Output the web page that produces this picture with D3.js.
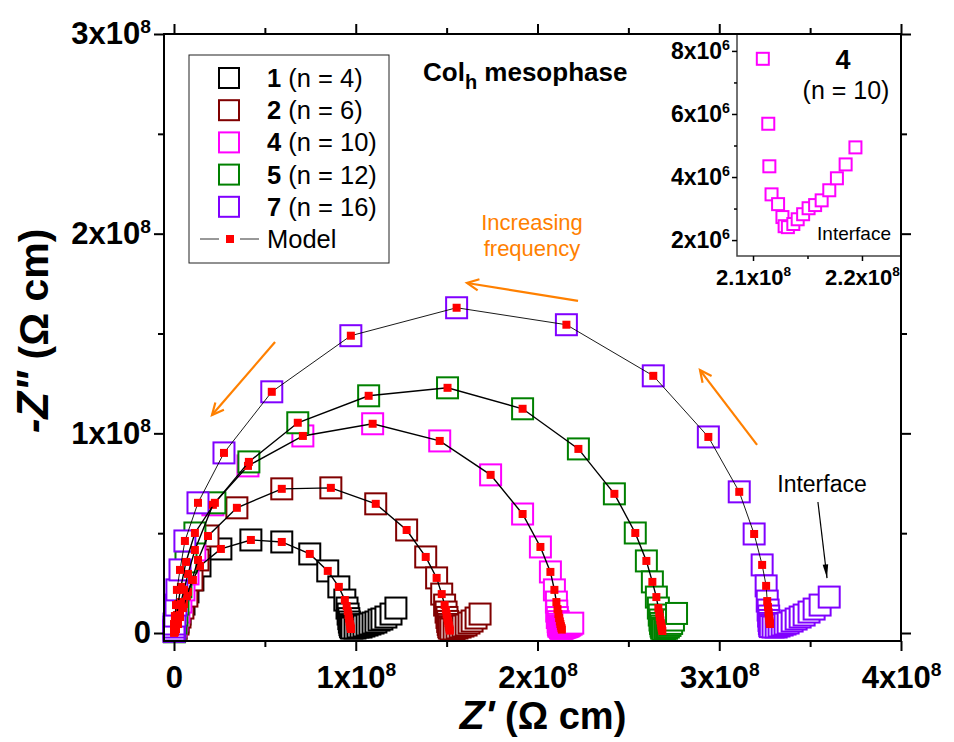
<!DOCTYPE html>
<html lang="en">
<head>
<meta charset="utf-8">
<title>Impedance - Colh mesophase</title>
<script src="https://d3js.org/d3.v7.min.js"></script>
<style>
body { margin: 0; background: #fff; }
text { font-family: Arial, "Liberation Sans", sans-serif; }
</style>
</head>
<body>
<div id="chart"></div>
<script>
// all impedance values in units of 1e8 Ohm cm, as [Z', -Z'']
var seriesNames = ["1", "2", "4", "5", "7"];
var seriesN = [4, 6, 10, 12, 16];
var seriesColors = ["#000000", "#800000", "#ff00ff", "#008000", "#8000ff"];

// measured points (open squares)
var zData1 = [[0.003,0.010],[0.006,0.018],[0.011,0.025],[0.022,0.055],[0.033,0.095],[0.055,0.145],[0.077,0.206],[0.104,0.266],[0.143,0.336],[0.258,0.421],[0.423,0.466],[0.593,0.456],[0.747,0.396],[0.846,0.311],[0.907,0.231],[0.940,0.165],[0.952,0.125],[0.958,0.095],[0.962,0.072],[0.965,0.055],[0.968,0.042],[0.971,0.033],[0.975,0.027],
  [0.979,0.025],[0.996,0.025],[1.012,0.030],[1.029,0.030],[1.045,0.035],[1.062,0.040],[1.078,0.045],[1.095,0.050],[1.111,0.055],[1.128,0.065],[1.144,0.070],[1.166,0.080],[1.194,0.095],[1.221,0.125]];
var zData2 = [[0.003,0.008],[0.006,0.014],[0.011,0.020],[0.022,0.045],[0.033,0.080],[0.049,0.125],[0.071,0.185],[0.099,0.266],[0.132,0.366],[0.187,0.486],[0.346,0.627],[0.593,0.722],[0.863,0.727],[1.110,0.647],[1.280,0.516],[1.385,0.381],[1.445,0.276],[1.473,0.195],[1.489,0.140],[1.497,0.105],[1.502,0.078],[1.506,0.058],[1.509,0.043],[1.512,0.032],[1.515,0.025],
  [1.524,0.020],[1.541,0.020],[1.557,0.025],[1.574,0.030],[1.590,0.035],[1.607,0.040],[1.623,0.050],[1.640,0.060],[1.662,0.075],[1.684,0.095]];
var zData3 = [[0.002,0.008],[0.004,0.012],[0.005,0.015],[0.011,0.035],[0.016,0.065],[0.027,0.105],[0.038,0.155],[0.055,0.216],[0.077,0.296],[0.115,0.416],[0.214,0.642],[0.407,0.837],[0.709,0.987],[1.093,1.048],[1.462,0.962],[1.742,0.792],[1.918,0.596],[2.016,0.431],[2.071,0.306],[2.093,0.216],[2.104,0.155],[2.106,0.110],
  [2.109,0.0775],[2.114,0.0569],[2.115,0.0434],[2.117,0.0345],[2.123,0.0314],[2.127,0.0273],[2.129,0.0244],[2.132,0.0241],[2.137,0.0251],[2.141,0.0266],[2.146,0.0282],[2.151,0.0301],[2.157,0.0311],[2.163,0.0326],[2.170,0.0358],[2.177,0.0396],[2.185,0.0440],[2.194,0.0494]];
var zData4 = [[0.002,0.006],[0.003,0.012],[0.005,0.020],[0.011,0.050],[0.016,0.090],[0.022,0.145],[0.038,0.231],[0.066,0.356],[0.115,0.501],[0.225,0.652],[0.412,0.857],[0.681,1.053],[1.071,1.188],[1.505,1.228],[1.918,1.123],[2.225,0.922],[2.423,0.697],[2.538,0.501],[2.599,0.361],[2.632,0.256],[2.654,0.180],[2.665,0.125],[2.670,0.090],[2.674,0.065],[2.677,0.048],[2.680,0.035],[2.683,0.025],
  [2.690,0.018],[2.700,0.020],[2.710,0.024],[2.720,0.030],[2.729,0.038],[2.738,0.048],[2.748,0.065],[2.765,0.098]];
var zData5 = [[0.000,0.008],[0.000,0.015],[0.000,0.030],[0.000,0.045],[0.005,0.085],[0.011,0.140],[0.016,0.216],[0.033,0.316],[0.060,0.461],[0.132,0.652],[0.275,0.902],[0.538,1.208],[0.973,1.489],[1.555,1.629],[2.159,1.544],[2.637,1.288],[2.940,0.982],[3.110,0.707],[3.192,0.496],[3.236,0.341],[3.258,0.236],[3.264,0.160],[3.269,0.115],[3.272,0.085],[3.274,0.063],[3.276,0.048],[3.278,0.038],[3.281,0.032],
  [3.296,0.030],[3.313,0.030],[3.329,0.035],[3.346,0.040],[3.362,0.045],[3.379,0.050],[3.401,0.060],[3.423,0.070],[3.445,0.080],[3.467,0.090],[3.494,0.105],[3.522,0.120],[3.555,0.140],[3.605,0.180]];

// model points (red squares + black line)
var zModel1 = [[0.001,0.003],[0.003,0.008],[0.006,0.016],[0.011,0.025],[0.022,0.055],[0.033,0.095],[0.055,0.145],[0.077,0.206],[0.104,0.266],[0.143,0.336],[0.258,0.421],[0.423,0.466],[0.593,0.456],[0.747,0.396],[0.846,0.311],[0.907,0.231],[0.940,0.165],[0.950,0.135],[0.956,0.110],[0.960,0.090],[0.963,0.072],[0.966,0.057],[0.968,0.044],[0.970,0.035],[0.972,0.027],[0.974,0.020]];
var zModel2 = [[0.001,0.003],[0.003,0.008],[0.006,0.014],[0.011,0.020],[0.022,0.045],[0.033,0.080],[0.049,0.125],[0.071,0.185],[0.099,0.266],[0.132,0.366],[0.187,0.486],[0.346,0.627],[0.593,0.722],[0.863,0.727],[1.110,0.647],[1.280,0.516],[1.385,0.381],[1.445,0.276],[1.473,0.195],[1.489,0.140],[1.496,0.115],[1.500,0.095],[1.504,0.077],[1.507,0.062],[1.510,0.049],[1.512,0.038],[1.514,0.028],[1.516,0.019],[1.518,0.012]];
var zModel3 = [[0.001,0.003],[0.002,0.007],[0.004,0.012],[0.011,0.035],[0.016,0.065],[0.027,0.105],[0.038,0.155],[0.055,0.216],[0.077,0.296],[0.115,0.416],[0.214,0.642],[0.407,0.837],[0.709,0.987],[1.093,1.048],[1.462,0.962],[1.742,0.792],[1.918,0.596],[2.016,0.431],[2.071,0.306],[2.093,0.216],[2.104,0.155],[2.110,0.120],[2.115,0.095],[2.119,0.075],[2.123,0.058],[2.126,0.045],[2.129,0.034],[2.132,0.025],[2.134,0.017]];
var zModel4 = [[0.001,0.003],[0.002,0.007],[0.004,0.013],[0.011,0.050],[0.016,0.090],[0.022,0.145],[0.038,0.231],[0.066,0.356],[0.115,0.501],[0.225,0.652],[0.412,0.857],[0.681,1.053],[1.071,1.188],[1.505,1.228],[1.918,1.123],[2.225,0.922],[2.423,0.697],[2.538,0.501],[2.599,0.361],[2.632,0.256],[2.654,0.180],[2.665,0.125],[2.670,0.100],[2.673,0.080],[2.676,0.063],[2.679,0.049],[2.681,0.037],[2.683,0.027],[2.685,0.018],[2.687,0.010]];
var zModel5 = [[0.000,0.004],[0.000,0.012],[0.000,0.025],[0.000,0.045],[0.005,0.085],[0.011,0.140],[0.016,0.216],[0.033,0.316],[0.060,0.461],[0.132,0.652],[0.275,0.902],[0.538,1.208],[0.973,1.489],[1.555,1.629],[2.159,1.544],[2.637,1.288],[2.940,0.982],[3.110,0.707],[3.192,0.496],[3.236,0.341],[3.258,0.236],[3.264,0.160],[3.268,0.130],[3.271,0.105],[3.273,0.088],[3.275,0.074],[3.276,0.062],[3.278,0.052],[3.279,0.045]];

// axis ticks (units of 1e8)
var xMajor = [0, 1, 2, 3, 4];
var xMinor = [0.5, 1.5, 2.5, 3.5];
var yMajor = [0, 1, 2, 3];
var yMinor = [0.5, 1.5, 2.5];
// inset ticks
var insetXMajor = [2.1, 2.2];
var insetXMinor = [2.15];
var insetYMajor = [0.02, 0.04, 0.06, 0.08];
var insetYMinor = [0.03, 0.05, 0.07];

var dataSets = [zData1, zData2, zData3, zData4, zData5];
var modelSets = [zModel1, zModel2, zModel3, zModel4, zModel5];
var series = seriesNames.map(function(nm, i) {
  return {name: nm, n: seriesN[i], color: seriesColors[i], data: dataSets[i], model: modelSets[i]};
});

var width = 954, height = 742;
var frame = {left: 164, right: 901, top: 34, bottom: 641};

var svg = d3.select("#chart").append("svg")
  .attr("width", width)
  .attr("height", height);

var x = d3.scaleLinear().domain([-0.055, 4]).range([frame.left, frame.right]);
var y = d3.scaleLinear().domain([-0.04, 3]).range([frame.bottom, frame.top]);

// writes "2x10^8" style tick text
function sciText(sel, mant, exp) {
  sel.text(null);
  if (mant === 0) { sel.text("0"); return; }
  sel.append("tspan").text(mant + "x10");
  sel.append("tspan").attr("dy", "-0.6em").style("font-size", "0.62em").text(exp);
}

function styleAxis(g, fontSize) {
  g.select(".domain").remove();
  g.selectAll(".tick line").attr("stroke", "#000").attr("stroke-width", 2);
  g.selectAll("text")
    .attr("fill", "#000")
    .attr("font-size", fontSize)
    .attr("font-weight", "bold")
    .attr("font-family", "Arial, 'Liberation Sans', sans-serif");
}

// ---- data squares ----
var sq = 21;
series.forEach(function(s) {
  svg.append("g")
    .selectAll("rect")
    .data(s.data)
    .enter()
    .append("rect")
      .attr("x", function(d) { return x(d[0]) - sq / 2; })
      .attr("y", function(d) { return y(d[1]) - sq / 2; })
      .attr("width", sq)
      .attr("height", sq)
      .attr("fill", "#fff")
      .attr("stroke", s.color)
      .attr("stroke-width", 2);
});

// ---- model lines + red points ----
var line = d3.line().x(function(d) { return x(d[0]); }).y(function(d) { return y(d[1]); });
series.forEach(function(s, i) {
  svg.append("path")
    .datum(s.model)
    .attr("d", line)
    .attr("fill", "none")
    .attr("stroke", "#000")
    .attr("stroke-width", i === 4 ? 0.9 : 1.4);
  svg.append("g")
    .selectAll("rect")
    .data(s.model)
    .enter()
    .append("rect")
      .attr("x", function(d) { return x(d[0]) - 4; })
      .attr("y", function(d) { return y(d[1]) - 4; })
      .attr("width", 8)
      .attr("height", 8)
      .attr("fill", "#ff0000");
});

// ---- frame + axes ----
svg.append("rect")
  .attr("x", frame.left).attr("y", frame.top)
  .attr("width", frame.right - frame.left).attr("height", frame.bottom - frame.top)
  .attr("fill", "none").attr("stroke", "#000").attr("stroke-width", 2);

var tickFont = 31;
var gxB = svg.append("g").attr("transform", "translate(0," + frame.bottom + ")")
  .call(d3.axisBottom(x).tickValues(xMajor).tickSize(10).tickPadding(15));
styleAxis(gxB, tickFont);
gxB.selectAll(".tick text").each(function(d) { sciText(d3.select(this), d, "8"); });
svg.append("g").attr("transform", "translate(0," + frame.bottom + ")")
  .call(d3.axisBottom(x).tickValues(xMinor).tickSize(6).tickFormat(""))
  .call(styleAxis, tickFont);
svg.append("g").attr("transform", "translate(0," + frame.top + ")")
  .call(d3.axisTop(x).tickValues(xMajor).tickSize(10).tickFormat(""))
  .call(styleAxis, tickFont);
svg.append("g").attr("transform", "translate(0," + frame.top + ")")
  .call(d3.axisTop(x).tickValues(xMinor).tickSize(6).tickFormat(""))
  .call(styleAxis, tickFont);

var gyL = svg.append("g").attr("transform", "translate(" + frame.left + ",0)")
  .call(d3.axisLeft(y).tickValues(yMajor).tickSize(10).tickPadding(3));
styleAxis(gyL, tickFont);
gyL.selectAll(".tick text").each(function(d) { sciText(d3.select(this), d, "8"); });
svg.append("g").attr("transform", "translate(" + frame.left + ",0)")
  .call(d3.axisLeft(y).tickValues(yMinor).tickSize(6).tickFormat(""))
  .call(styleAxis, tickFont);
svg.append("g").attr("transform", "translate(" + frame.right + ",0)")
  .call(d3.axisRight(y).tickValues(yMajor).tickSize(10).tickFormat(""))
  .call(styleAxis, tickFont);
svg.append("g").attr("transform", "translate(" + frame.right + ",0)")
  .call(d3.axisRight(y).tickValues(yMinor).tickSize(6).tickFormat(""))
  .call(styleAxis, tickFont);

// axis titles
var yTitle = svg.append("text")
  .attr("transform", "translate(48,331) rotate(-90)")
  .attr("text-anchor", "middle")
  .attr("font-weight", "bold")
  .attr("font-size", 41);
yTitle.append("tspan").attr("font-style", "italic").attr("font-size", 44).text("-Z\"");
yTitle.append("tspan").text(" (\u03A9 cm)");

var xTitle = svg.append("text")
  .attr("x", 543).attr("y", 729)
  .attr("text-anchor", "middle")
  .attr("font-weight", "bold")
  .attr("font-size", 38);
xTitle.append("tspan").attr("font-style", "italic").attr("font-size", 41).text("Z'");
xTitle.append("tspan").text(" (\u03A9 cm)");

// ---- legend ----
var legend = svg.append("g");
legend.append("rect")
  .attr("x", 189).attr("y", 55).attr("width", 200).attr("height", 208)
  .attr("fill", "#fff").attr("stroke", "#222").attr("stroke-width", 1);
series.forEach(function(s, i) {
  var ly = 78 + i * 32.2;
  legend.append("rect")
    .attr("x", 219).attr("y", ly - 10).attr("width", 20).attr("height", 20)
    .attr("fill", "#fff").attr("stroke", s.color).attr("stroke-width", 2);
  var t = legend.append("text").attr("x", 267).attr("y", ly + 9).attr("font-size", 25.5);
  t.append("tspan").attr("font-weight", "bold").text(s.name);
  t.append("tspan").text(" (n = " + s.n + ")");
});
var lm = 78 + 5 * 32.2;
legend.append("line").attr("x1", 200).attr("x2", 219).attr("y1", lm).attr("y2", lm).attr("stroke", "#333").attr("stroke-width", 1);
legend.append("line").attr("x1", 240).attr("x2", 259).attr("y1", lm).attr("y2", lm).attr("stroke", "#333").attr("stroke-width", 1);
legend.append("rect").attr("x", 226).attr("y", lm - 4).attr("width", 8).attr("height", 8).attr("fill", "#ff0000");
legend.append("text").attr("x", 267).attr("y", lm + 9).attr("font-size", 25.5).text("Model");

// title
var title = svg.append("text").attr("x", 423).attr("y", 81).attr("font-size", 26).attr("font-weight", "bold");
title.append("tspan").text("Col");
title.append("tspan").attr("dy", 8).attr("font-size", 20).text("h");
title.append("tspan").attr("dy", -8).text(" mesophase");

// ---- annotations ----
var orange = "#ff8000";
function arrow(x1, y1, x2, y2, color, filled) {
  var px1 = x(x1), py1 = y(y1), px2 = x(x2), py2 = y(y2);
  var ang = Math.atan2(py2 - py1, px2 - px1);
  svg.append("line").attr("x1", px1).attr("y1", py1).attr("x2", px2).attr("y2", py2)
    .attr("stroke", color).attr("stroke-width", filled ? 1.2 : 2.2);
  var L = filled ? 14 : 13, a = filled ? 0.2 : 0.45;
  var p1 = [px2 - L * Math.cos(ang - a), py2 - L * Math.sin(ang - a)];
  var p2 = [px2 - L * Math.cos(ang + a), py2 - L * Math.sin(ang + a)];
  if (filled) {
    svg.append("path").attr("d", "M" + p1 + "L" + [px2, py2] + "L" + p2 + "Z").attr("fill", color);
  } else {
    svg.append("path").attr("d", "M" + p1 + "L" + [px2, py2] + "L" + p2)
      .attr("fill", "none").attr("stroke", color).attr("stroke-width", 2.2);
  }
}
arrow(2.223, 1.663, 1.612, 1.753, orange, false);
arrow(0.556, 1.457, 0.209, 1.092, orange, false);
arrow(3.208, 0.942, 2.894, 1.317, orange, false);
arrow(3.543, 0.656, 3.593, 0.275, "#000", true);

var inc = svg.append("text").attr("text-anchor", "middle").attr("font-size", 22).attr("fill", orange);
inc.append("tspan").attr("x", 532).attr("y", 230).text("Increasing");
inc.append("tspan").attr("x", 532).attr("y", 256).text("frequency");

svg.append("text").attr("x", 822).attr("y", 492).attr("text-anchor", "middle")
  .attr("font-size", 23).text("Interface");

// ---- inset: tail of series 4 ----
var inset = {left: 737, right: 900, top: 35, bottom: 256};
var ix = d3.scaleLinear().domain([2.0853, 2.2349]).range([inset.left, inset.right]);
var iy = d3.scaleLinear().domain([0.01495, 0.08505]).range([inset.bottom, inset.top]);

svg.append("rect").attr("x", inset.left).attr("y", inset.top)
  .attr("width", inset.right - inset.left).attr("height", inset.bottom - inset.top)
  .attr("fill", "#fff");
svg.append("clipPath").attr("id", "insetClip").append("rect")
  .attr("x", inset.left).attr("y", inset.top)
  .attr("width", inset.right - inset.left).attr("height", inset.bottom - inset.top);

svg.append("g").attr("clip-path", "url(#insetClip)")
  .selectAll("rect")
  .data(zData3)
  .enter()
  .append("rect")
    .attr("x", function(d) { return ix(d[0]) - 6; })
    .attr("y", function(d) { return iy(d[1]) - 6; })
    .attr("width", 12)
    .attr("height", 12)
    .attr("fill", "#fff")
    .attr("stroke", seriesColors[2])
    .attr("stroke-width", 2);

svg.append("path")
  .attr("d", "M" + inset.left + "," + inset.top + "V" + inset.bottom + "H" + inset.right)
  .attr("fill", "none").attr("stroke", "#444").attr("stroke-width", 1.5);

var gix = svg.append("g").attr("transform", "translate(0," + inset.bottom + ")")
  .call(d3.axisBottom(ix).tickValues(insetXMajor).tickSize(5).tickPadding(8));
styleAxis(gix, 22);
gix.selectAll(".tick line").attr("stroke-width", 1.5);
gix.selectAll(".tick text").each(function(d) { sciText(d3.select(this), d, "8"); });
svg.append("g").attr("transform", "translate(0," + inset.bottom + ")")
  .call(d3.axisBottom(ix).tickValues(insetXMinor).tickSize(3).tickFormat(""))
  .call(styleAxis, 22).selectAll(".tick line").attr("stroke-width", 1.5);

var giy = svg.append("g").attr("transform", "translate(" + inset.left + ",0)")
  .call(d3.axisLeft(iy).tickValues(insetYMajor).tickSize(5).tickPadding(2));
styleAxis(giy, 23);
giy.selectAll(".tick line").attr("stroke-width", 1.5);
giy.selectAll(".tick text").each(function(d) { sciText(d3.select(this), Math.round(d * 100), "6"); });
svg.append("g").attr("transform", "translate(" + inset.left + ",0)")
  .call(d3.axisLeft(iy).tickValues(insetYMinor).tickSize(3).tickFormat(""))
  .call(styleAxis, 22).selectAll(".tick line").attr("stroke-width", 1.5);

svg.append("text").attr("x", 843).attr("y", 69).attr("text-anchor", "middle")
  .attr("font-family", "'Liberation Serif', 'DejaVu Serif', serif")
  .attr("font-weight", "bold").attr("font-size", 27).text("4");
svg.append("text").attr("x", 846).attr("y", 99).attr("text-anchor", "middle")
  .attr("font-family", "'Liberation Serif', 'DejaVu Serif', serif")
  .attr("font-size", 25).text("(n = 10)");
svg.append("text").attr("x", 854).attr("y", 240).attr("text-anchor", "middle")
  .attr("font-size", 19).text("Interface");
</script>
</body>
</html>
